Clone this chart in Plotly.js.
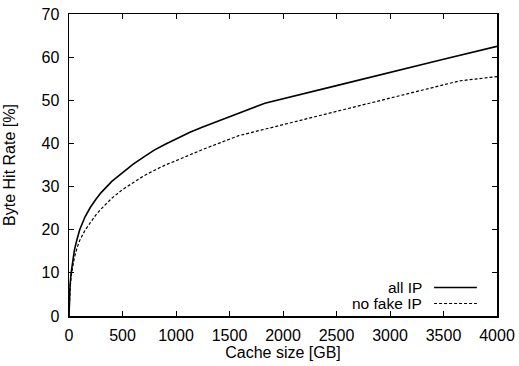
<!DOCTYPE html>
<html>
<head>
<meta charset="utf-8">
<script src="https://cdn.plot.ly/plotly-3.0.1.min.js"></script>
<style>html,body{margin:0;padding:0;background:#fff;}#chart{width:519px;height:366px;}</style>
</head>
<body>
<div id="chart"></div>
<script>
// Cache size [GB]
var cacheAll = [0, 5, 10, 20, 30, 50, 75, 100, 150, 200, 250, 300, 400, 500, 600, 700, 800, 900, 1000, 1130, 1250, 1500, 1830, 2500, 3000, 3500, 4000];
var hitAll   = [0, 4.5, 7.2, 10.0, 11.9, 15.2, 17.8, 20.0, 23.0, 25.2, 27.0, 28.6, 31.2, 33.3, 35.2, 36.9, 38.5, 39.8, 41.0, 42.6, 43.8, 46.2, 49.3, 53.4, 56.5, 59.5, 62.5];

var cacheNoFake = [0, 5, 10, 20, 30, 50, 75, 100, 150, 200, 250, 300, 400, 500, 600, 700, 800, 900, 1000, 1100, 1250, 1586, 2000, 2500, 3000, 3650, 3800, 4000];
var hitNoFake   = [0, 4.0, 6.2, 9.3, 11.0, 13.5, 15.8, 17.5, 19.9, 21.8, 23.4, 24.8, 27.3, 29.3, 31.0, 32.5, 33.8, 35.0, 36.0, 37.1, 38.6, 41.8, 44.4, 47.5, 50.5, 54.5, 55.0, 55.5];

var seriesNames = ["all IP", "no fake IP"];
var xTicks = [0, 500, 1000, 1500, 2000, 2500, 3000, 3500, 4000];
var yTicks = [0, 10, 20, 30, 40, 50, 60, 70];

var FONT = "Liberation Sans, Arial, Helvetica, sans-serif";
var styles = [
  {color: "#000", width: 1.6, dash: "solid"},
  {color: "#000", width: 1.2, dash: "3px,2px"}
];

var traces = [
  {x: cacheAll, y: hitAll, name: seriesNames[0], mode: "lines", line: styles[0], showlegend: false, hoverinfo: "skip"},
  {x: cacheNoFake, y: hitNoFake, name: seriesNames[1], mode: "lines", line: styles[1], showlegend: false, hoverinfo: "skip"}
];

// gnuplot-style key: text left, sample right
var keyY = [0.0944, 0.0414];
var annotations = [];
var shapes = [];
for (var i = 0; i < seriesNames.length; i++) {
  annotations.push({
    xref: "paper", yref: "paper", x: 0.827, y: keyY[i], xanchor: "right", yanchor: "middle",
    text: seriesNames[i], showarrow: false, borderpad: 0,
    font: {family: FONT, size: 15.5, color: "#000"}
  });
  shapes.push({
    type: "line", xref: "paper", yref: "paper", x0: 0.853, x1: 0.953, y0: keyY[i], y1: keyY[i],
    line: {color: styles[i].color, width: styles[i].width, dash: styles[i].dash}
  });
}

var axisCommon = {
  showgrid: false, zeroline: false, showline: true, linecolor: "#000", linewidth: 1.5,
  mirror: "ticks", ticks: "inside", ticklen: 5, tickwidth: 1, tickcolor: "#000",
  tickfont: {family: FONT, size: 16, color: "#000"}
};

var layout = {
  width: 519, height: 366,
  margin: {l: 69, r: 22, t: 14, b: 50, pad: 0},
  paper_bgcolor: "#fff", plot_bgcolor: "#fff",
  font: {family: FONT, size: 16, color: "#000"},
  xaxis: Object.assign({}, axisCommon, {
    range: [0, 4000], tickvals: xTicks, ticktext: xTicks.map(String),
    ticklabelstandoff: 4,
    title: {text: "Cache size [GB]", font: {family: FONT, size: 16, color: "#000"}, standoff: 4}
  }),
  yaxis: Object.assign({}, axisCommon, {
    range: [0, 70], tickvals: yTicks, ticktext: yTicks.map(String),
    ticklabelstandoff: 5,
    title: {text: "Byte Hit Rate [%]", font: {family: FONT, size: 16, color: "#000"}, standoff: 22}
  }),
  annotations: annotations,
  shapes: shapes,
  showlegend: false
};

Plotly.newPlot("chart", traces, layout, {staticPlot: true, displayModeBar: false});
</script>
</body>
</html>
